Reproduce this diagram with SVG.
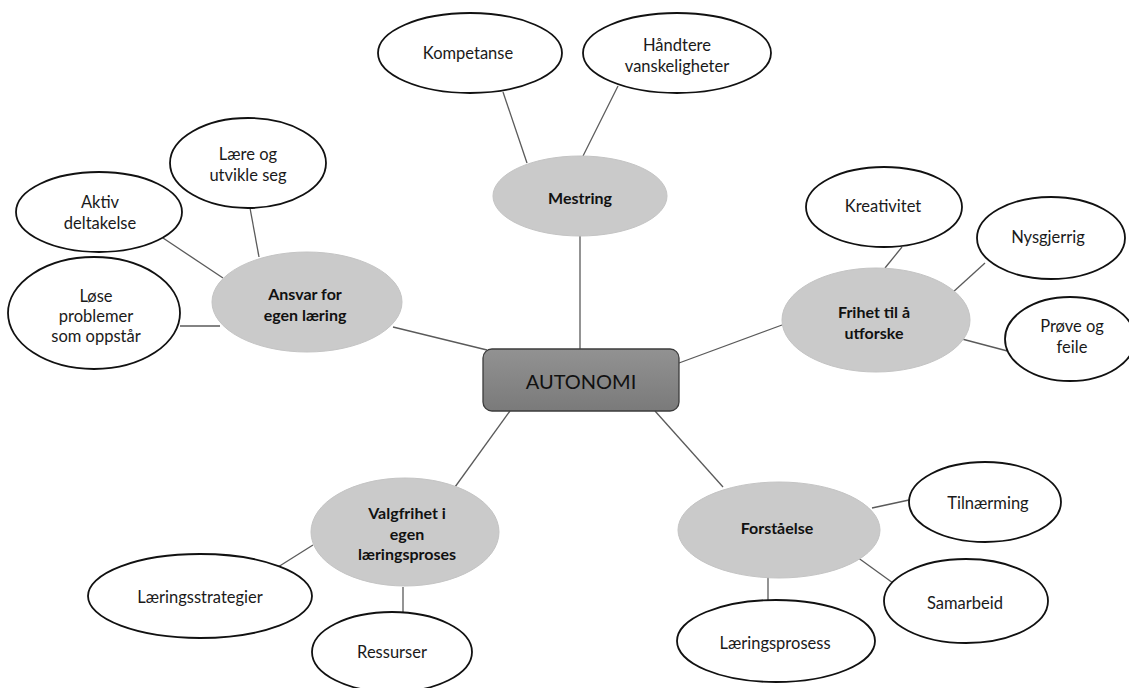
<svg xmlns="http://www.w3.org/2000/svg" width="1129" height="688" viewBox="0 0 1129 688">
<defs>
<linearGradient id="boxGrad" x1="0" y1="0" x2="0" y2="1">
<stop offset="0" stop-color="#929292"/>
<stop offset="1" stop-color="#7a7a7a"/>
</linearGradient>
<style>
.conn line{stroke:#5a5a5a;stroke-width:1.3;}
.leaf ellipse{fill:#ffffff;stroke:#111;stroke-width:1.8;}
.topic ellipse{fill:#cacaca;stroke:#c4c4c4;stroke-width:1;}
text{font-family:Lato,"Open Sans","Liberation Sans",sans-serif;text-anchor:middle;dominant-baseline:central;fill:#1a1a1a;}
.leaf text{font-size:16.5px;}
.topic text{font-size:16px;font-weight:bold;fill:#111;}
#autonomi text{font-size:20px;fill:#111;}
</style>
</defs>
<rect width="1129" height="688" fill="#ffffff"/>
<g id="connectors" class="conn">
<line x1="580" y1="236" x2="580" y2="349"/>
<line x1="503" y1="92" x2="527" y2="163"/>
<line x1="618" y1="86" x2="583" y2="156"/>
<line x1="393" y1="327" x2="487" y2="350"/>
<line x1="250" y1="208" x2="259" y2="257"/>
<line x1="163" y1="238" x2="223" y2="278"/>
<line x1="180" y1="326" x2="220" y2="326"/>
<line x1="782" y1="325" x2="679" y2="363"/>
<line x1="902" y1="247" x2="885" y2="268"/>
<line x1="985" y1="263" x2="952" y2="293"/>
<line x1="962" y1="339" x2="1015" y2="353"/>
<line x1="455" y1="487" x2="510" y2="411"/>
<line x1="313" y1="545" x2="278" y2="567"/>
<line x1="403" y1="587" x2="403" y2="612"/>
<line x1="723" y1="487" x2="655" y2="411"/>
<line x1="872" y1="508" x2="909" y2="500"/>
<line x1="857" y1="557" x2="893" y2="583"/>
<line x1="768" y1="577" x2="768" y2="600"/>
</g>
<g id="autonomi">
<rect x="483" y="349" width="196" height="62" rx="9" fill="url(#boxGrad)" stroke="#3c3c3c" stroke-width="1.3"/>
<text x="581" y="381">AUTONOMI</text>
</g>
<g id="mestring" class="topic">
<ellipse cx="580" cy="196" rx="87" ry="40"/>
<text x="580" y="197">Mestring</text>
</g>
<g id="kompetanse" class="leaf">
<ellipse cx="470" cy="53" rx="92" ry="40"/>
<text x="468" y="53">Kompetanse</text>
</g>
<g id="handtere" class="leaf">
<ellipse cx="677" cy="53" rx="94" ry="40"/>
<text x="677" y="45">Håndtere</text>
<text x="677" y="66">vanskeligheter</text>
</g>
<g id="ansvar" class="topic">
<ellipse cx="307" cy="302" rx="95" ry="50"/>
<text x="305" y="293">Ansvar for</text>
<text x="305" y="314">egen læring</text>
</g>
<g id="laere" class="leaf">
<ellipse cx="248" cy="163" rx="78" ry="45"/>
<text x="248" y="154">Lære og</text>
<text x="248" y="175">utvikle seg</text>
</g>
<g id="aktiv" class="leaf">
<ellipse cx="99" cy="212" rx="83" ry="40"/>
<text x="100" y="202">Aktiv</text>
<text x="100" y="223">deltakelse</text>
</g>
<g id="lose" class="leaf">
<ellipse cx="94" cy="313" rx="86" ry="56"/>
<text x="96" y="296">Løse</text>
<text x="96" y="316">problemer</text>
<text x="96" y="336">som oppstår</text>
</g>
<g id="frihet" class="topic">
<ellipse cx="876" cy="320" rx="94" ry="52"/>
<text x="874" y="311">Frihet til å</text>
<text x="874" y="332">utforske</text>
</g>
<g id="kreativitet" class="leaf">
<ellipse cx="884" cy="207" rx="78" ry="40"/>
<text x="883" y="206">Kreativitet</text>
</g>
<g id="nysgjerrig" class="leaf">
<ellipse cx="1051" cy="238" rx="74" ry="41"/>
<text x="1048" y="237">Nysgjerrig</text>
</g>
<g id="prove" class="leaf">
<ellipse cx="1070" cy="339" rx="65" ry="42"/>
<text x="1072" y="326">Prøve og</text>
<text x="1072" y="347">feile</text>
</g>
<g id="valgfrihet" class="topic">
<ellipse cx="405" cy="532" rx="94" ry="54"/>
<text x="407" y="512">Valgfrihet i</text>
<text x="407" y="533">egen</text>
<text x="407" y="553">læringsproses</text>
</g>
<g id="laeringsstrategier" class="leaf">
<ellipse cx="200" cy="596" rx="112" ry="42"/>
<text x="200" y="597">Læringsstrategier</text>
</g>
<g id="ressurser" class="leaf">
<ellipse cx="392" cy="652" rx="80" ry="40"/>
<text x="392" y="652">Ressurser</text>
</g>
<g id="forstaelse" class="topic">
<ellipse cx="779" cy="530" rx="101" ry="48"/>
<text x="777" y="527">Forståelse</text>
</g>
<g id="tilnaerming" class="leaf">
<ellipse cx="985" cy="502" rx="76" ry="40"/>
<text x="988" y="503">Tilnærming</text>
</g>
<g id="samarbeid" class="leaf">
<ellipse cx="966" cy="601" rx="82" ry="42"/>
<text x="965" y="603">Samarbeid</text>
</g>
<g id="laeringsprosess" class="leaf">
<ellipse cx="776" cy="641" rx="99" ry="41"/>
<text x="775" y="643">Læringsprosess</text>
</g>
</svg>
